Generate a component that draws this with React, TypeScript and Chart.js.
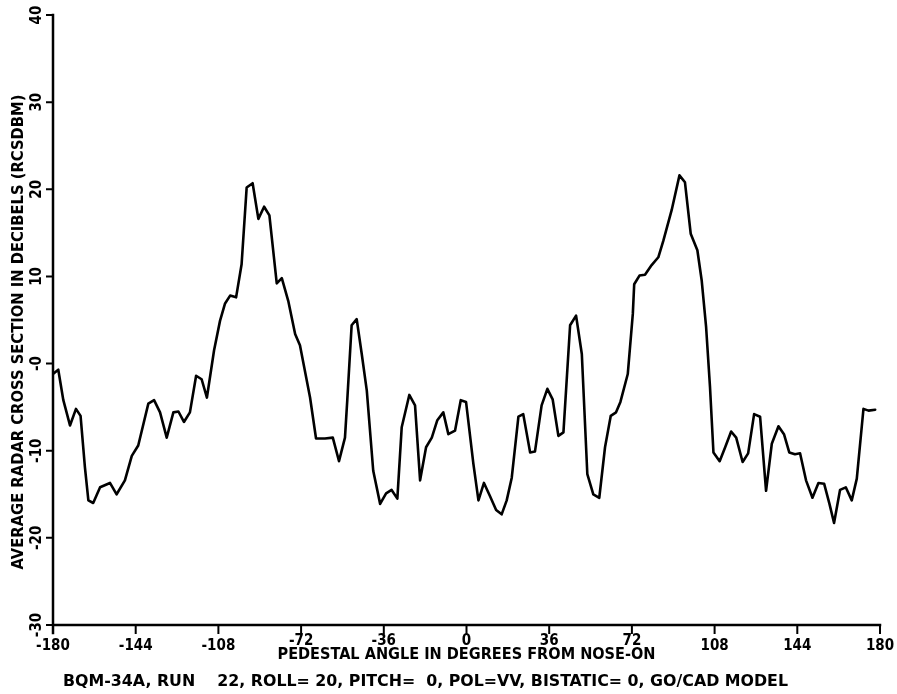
import React, { useEffect, useRef } from "react";
import { Chart, registerables } from "chart.js";

Chart.register(...registerables);

// Pedestal angle (degrees from nose-on)
const ANGLES: number[] = [
  -180, -177.7, -175.5, -172.6, -170, -168, -166.1, -164.6, -162.5, -159.5,
  -155.2, -152.3, -148.7, -145.7, -142.9, -138.5, -136, -133.4, -130.5, -127.6,
  -125.4, -123, -120.4, -117.7, -115.3, -113, -109.9, -107.3, -105.1, -102.9,
  -100.3, -97.9, -95.7, -93.1, -90.6, -88.1, -85.8, -82.6, -80.4, -77.6,
  -74.6, -72.5, -68.1, -65.5, -61.6, -58.2, -55.5, -52.9, -51.9, -50,
  -47.8, -45.6, -43.4, -40.6, -37.6, -35, -32.6, -30.1, -28.2, -24.9,
  -22.4, -20.2, -17.6, -15.1, -12.7, -10.1, -7.9, -5, -2.5, -0.2,
  3, 5.2, 7.6, 10.2, 12.9, 15.3, 17.5, 19.7, 22.6, 24.7,
  27.7, 29.8, 32.7, 35.2, 37.5, 40, 42.2, 45.1, 47.7, 50.2,
  52.6, 55.2, 57.8, 60.3, 62.8, 65.1, 67, 70.2, 72.4, 73,
  75.3, 77.7, 80.6, 83.5, 85.7, 89.3, 92.7, 95.1, 97.6, 100.5,
  102.4, 104.3, 106, 107.5, 110.2, 112.6, 115.2, 117.4, 120.2, 122.6,
  125.2, 127.8, 130.4, 132.9, 135.8, 138.2, 140.5, 143, 145.2, 147.8,
  150.6, 153.2, 155.7, 158, 160, 162.6, 165.1, 167.7, 169.9, 172.8,
  175, 177.9,
];

// Average radar cross section (dB)
const RCS_DB: number[] = [
  -1.2, -0.7, -4.2, -7.1, -5.2, -6.0, -11.9, -15.7, -16.0, -14.2,
  -13.7, -15.0, -13.4, -10.6, -9.4, -4.6, -4.2, -5.6, -8.5, -5.6,
  -5.5, -6.7, -5.6, -1.4, -1.8, -3.9, 1.5, 4.9, 6.9, 7.8,
  7.6, 11.4, 20.2, 20.7, 16.6, 18.0, 17.0, 9.2, 9.8, 7.2,
  3.4, 2.1, -3.9, -8.6, -8.6, -8.5, -11.2, -8.5, -4.2, 4.4,
  5.1, 1.1, -3.1, -12.3, -16.1, -14.9, -14.5, -15.5, -7.3, -3.6,
  -4.8, -13.4, -9.6, -8.5, -6.5, -5.6, -8.1, -7.7, -4.2, -4.4,
  -11.5, -15.7, -13.7, -15.2, -16.8, -17.3, -15.7, -13.1, -6.1, -5.8,
  -10.2, -10.1, -4.8, -2.9, -4.1, -8.3, -7.9, 4.4, 5.5, 1.1,
  -12.7, -15.0, -15.4, -9.6, -6.0, -5.6, -4.4, -1.2, 5.7, 9.1,
  10.1, 10.2, 11.3, 12.2, 14.1, 17.6, 21.6, 20.8, 14.9, 13.0,
  9.5, 4.2, -2.7, -10.2, -11.2, -9.6, -7.8, -8.5, -11.3, -10.3,
  -5.8, -6.1, -14.6, -9.2, -7.2, -8.1, -10.2, -10.4, -10.3, -13.4,
  -15.4, -13.7, -13.8, -16.1, -18.3, -14.5, -14.2, -15.7, -13.2, -5.2,
  -5.4, -5.3,
];

const X_TICKS: number[] = [-180, -144, -108, -72, -36, 0, 36, 72, 108, 144, 180];
const X_TICK_LABELS: string[] = ["-180", "-144", "-108", "-72", "-36", "0", "36", "72", "108", "144", "180"];
const Y_TICKS: number[] = [40, 30, 20, 10, 0, -10, -20, -30];
const Y_TICK_LABELS: string[] = ["40", "30", "20", "10", "-0", "-10", "-20", "-30"];

const X_TITLE = "PEDESTAL ANGLE IN DEGREES FROM NOSE-ON";
const Y_TITLE = "AVERAGE RADAR CROSS SECTION IN DECIBELS (RCSDBM)";
const FOOTER = "BQM-34A, RUN    22, ROLL= 20, PITCH=  0, POL=VV, BISTATIC= 0, GO/CAD MODEL";

const FONT = 'bold 15px "DejaVu Sans Condensed", "DejaVu Sans", sans-serif';

function fitText(
  ctx: CanvasRenderingContext2D,
  text: string,
  x: number,
  y: number,
  width: number,
  rotate = false
) {
  ctx.save();
  ctx.translate(x, y);
  if (rotate) ctx.rotate(-Math.PI / 2);
  const w = ctx.measureText(text).width;
  ctx.scale(width / w, 1);
  ctx.textAlign = "center";
  ctx.textBaseline = "middle";
  ctx.fillText(text, 0, 0);
  ctx.restore();
}

const axesPlugin = {
  id: "plotterAxes",
  afterDatasetsDraw(chart: any) {
    const ctx: CanvasRenderingContext2D = chart.ctx;
    const xs = chart.scales.x;
    const ys = chart.scales.y;
    const left = xs.getPixelForValue(-180);
    const right = xs.getPixelForValue(180);
    const top = ys.getPixelForValue(40);
    const bottom = ys.getPixelForValue(-30);

    ctx.save();
    ctx.strokeStyle = "#000";
    ctx.fillStyle = "#000";
    ctx.lineWidth = 2.5;
    ctx.lineCap = "square";

    ctx.beginPath();
    ctx.moveTo(left, top);
    ctx.lineTo(left, bottom + 8);
    ctx.moveTo(left, bottom);
    ctx.lineTo(right, bottom);
    ctx.stroke();

    ctx.lineWidth = 2;
    ctx.beginPath();
    Y_TICKS.forEach((v) => {
      const y = ys.getPixelForValue(v);
      ctx.moveTo(left - 6, y);
      ctx.lineTo(left, y);
    });
    X_TICKS.forEach((v) => {
      const x = xs.getPixelForValue(v);
      ctx.moveTo(x, bottom);
      ctx.lineTo(x, bottom + 8);
    });
    ctx.stroke();

    ctx.font = FONT;
    ctx.textAlign = "center";
    ctx.textBaseline = "middle";
    X_TICKS.forEach((v, i) => {
      const x = xs.getPixelForValue(v);
      const dy = Math.abs(v) <= 72 ? 16 : 21;
      ctx.fillText(X_TICK_LABELS[i], x, bottom + dy);
    });

    Y_TICKS.forEach((v, i) => {
      const y = ys.getPixelForValue(v);
      ctx.save();
      ctx.translate(left - 16, y);
      ctx.rotate(-Math.PI / 2);
      ctx.fillText(Y_TICK_LABELS[i], 0, 0);
      ctx.restore();
    });

    fitText(ctx, X_TITLE, (left + right) / 2, bottom + 30, 378);
    fitText(ctx, Y_TITLE, 19, (top + bottom) / 2 + 12, 475, true);
    fitText(ctx, FOOTER, 63 + 725 / 2, bottom + 57, 725);
    ctx.restore();
  },
};

export default function App() {
  const canvasRef = useRef<HTMLCanvasElement | null>(null);

  useEffect(() => {
    const canvas = canvasRef.current;
    if (!canvas) return;
    const points = ANGLES.map((a, i) => ({ x: a, y: RCS_DB[i] }));
    const chart = new Chart(canvas, {
      type: "line",
      data: {
        datasets: [
          {
            data: points,
            borderColor: "#000",
            borderWidth: 2.6,
            pointRadius: 0,
            tension: 0,
            borderJoinStyle: "round",
            borderCapStyle: "round",
            fill: false,
          },
        ],
      },
      options: {
        animation: false,
        responsive: false,
        devicePixelRatio: 1,
        layout: { padding: { left: 53, right: 17, top: 15, bottom: 69 } },
        scales: {
          x: { type: "linear", min: -180, max: 180, display: false },
          y: { type: "linear", min: -30, max: 40, display: false },
        },
        plugins: {
          legend: { display: false },
          tooltip: { enabled: false },
        },
      },
      plugins: [axesPlugin],
    });
    return () => chart.destroy();
  }, []);

  return (
    <div style={{ position: "fixed", left: 0, top: 0, width: 897, height: 694, background: "#fff" }}>
      <canvas ref={canvasRef} width={897} height={694} style={{ display: "block" }} />
    </div>
  );
}
